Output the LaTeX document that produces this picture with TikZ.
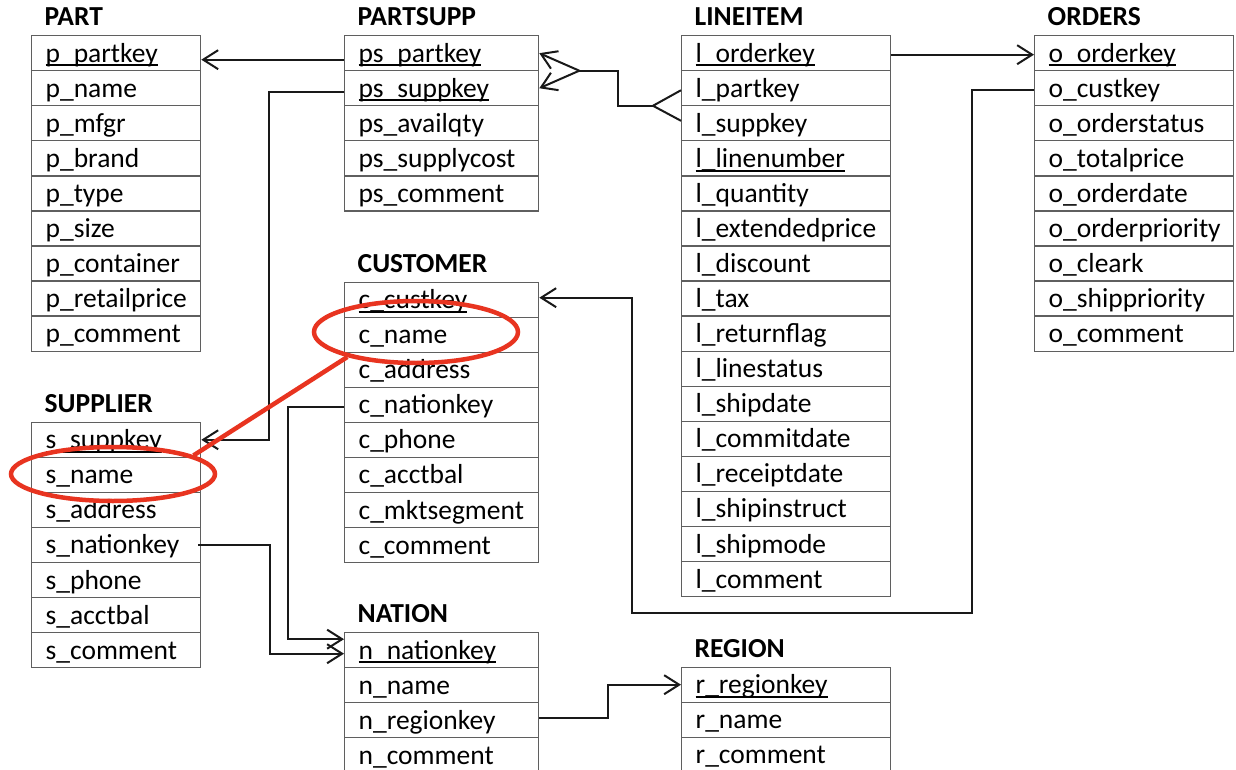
\documentclass[tikz,border=0pt]{standalone}
\usepackage{fontspec}
\setmainfont{Carlito}
\usetikzlibrary{arrows.meta,shapes.geometric,calc}

\definecolor{gridgray}{RGB}{95,95,95}
\definecolor{linkblack}{RGB}{25,25,25}
\definecolor{markred}{RGB}{232,52,32}

\newcommand\fieldfont{\fontsize{27.5}{30}\selectfont}
\newcommand\titlefont{\fontsize{27.5}{30}\selectfont\bfseries}

% primary-key fields get a rule just below the baseline
\newcommand\keyline[1]{\setbox0=\hbox{#1}\rlap{\rule[-4.2pt]{\wd0}{2pt}}\box0}
\newcommand\fieldlabel[2]{%
  \ifnum#2=1 \keyline{\expandafter\detokenize\expandafter{#1}}%
  \else\expandafter\detokenize\expandafter{#1}\fi}

% #1 title node name, #2 title, #3 x, #4 top, #5 width, #6 fields (name/iskey)
\newcommand\dbtable[6]{%
  \node[tabletitle] (#1) at (#3+13.5, #4-9.5) {#2};
  \pgfmathsetmacro\fieldtw{#5-28}
  \foreach \nm/\k [count=\i from 0] in {#6}{
    \node[field, text width=\fieldtw pt] (\nm) at (#3, #4+\i*35.06) {\fieldlabel{\nm}{\k}};
  }
}

\begin{document}
\begin{tikzpicture}[x=1pt, y=-1pt,
  field/.style={draw=gridgray, line width=1.3pt, anchor=north west,
    minimum height=35.06pt, inner xsep=14pt, inner ysep=0pt,
    text height=21.5pt, text depth=3.5pt, align=left, font=\fieldfont},
  tabletitle/.style={anchor=base west, inner sep=0pt, font=\titlefont},
  conn/.style={draw=linkblack, line width=2pt, line join=miter},
  tip/.style={-{Straight Barb[length=15pt,width=19pt]}},
  ring/.style={ellipse, draw=markred, line width=4.5pt, inner sep=0pt},
  redline/.style={draw=markred, line width=4.5pt}]

\fill[white] (0,0) rectangle (1236,770);
\useasboundingbox (0,0) rectangle (1236,770);

% tables
\dbtable{part-title}{PART}{31}{35}{169}{p_partkey/1, p_name/0, p_mfgr/0, p_brand/0,
  p_type/0, p_size/0, p_container/0, p_retailprice/0, p_comment/0}
\dbtable{partsupp-title}{PARTSUPP}{344}{35}{194}{ps_partkey/1, ps_suppkey/1,
  ps_availqty/0, ps_supplycost/0, ps_comment/0}
\dbtable{lineitem-title}{LINEITEM}{681}{35}{209}{l_orderkey/1, l_partkey/0,
  l_suppkey/0, l_linenumber/1, l_quantity/0, l_extendedprice/0, l_discount/0,
  l_tax/0, l_returnflag/0, l_linestatus/0, l_shipdate/0, l_commitdate/0,
  l_receiptdate/0, l_shipinstruct/0, l_shipmode/0, l_comment/0}
\dbtable{orders-title}{ORDERS}{1034}{35}{199}{o_orderkey/1, o_custkey/0,
  o_orderstatus/0, o_totalprice/0, o_orderdate/0, o_orderpriority/0,
  o_cleark/0, o_shippriority/0, o_comment/0}
\dbtable{customer-title}{CUSTOMER}{344}{281.5}{194}{c_custkey/1, c_name/0,
  c_address/0, c_nationkey/0, c_phone/0, c_acctbal/0, c_mktsegment/0, c_comment/0}
\dbtable{supplier-title}{SUPPLIER}{31}{421.6}{169}{s_suppkey/1, s_name/0,
  s_address/0, s_nationkey/0, s_phone/0, s_acctbal/0, s_comment/0}
\dbtable{nation-title}{NATION}{344}{632}{194}{n_nationkey/1, n_name/0,
  n_regionkey/0, n_comment/0}
\dbtable{region-title}{REGION}{681}{666.5}{209}{r_regionkey/1, r_name/0, r_comment/0}

% PARTSUPP -> PART
\draw[conn, tip] ([yshift=-6.5pt]ps_partkey.west) -- ([yshift=-6.5pt]p_partkey.east);
% PARTSUPP -> SUPPLIER
\draw[conn, tip] ([yshift=-3.5pt]ps_suppkey.west) -- ++(-75,0) |- (s_suppkey.east);

% LINEITEM -> PARTSUPP (composite key, crow's foot)
\coordinate (ps-fork) at ($(ps_partkey.east)!0.5!(ps_suppkey.east)+(40,0)$);
\coordinate (l-fork) at ($(l_partkey.west)!0.5!(l_suppkey.west)+(-28,0)$);
\draw[conn, tip] (ps-fork) -- (ps_partkey.east);
\draw[conn, tip] (ps-fork) -- (ps_suppkey.east);
\draw[conn] (ps-fork) -- ++(39,0) |- (l-fork);
\draw[conn] ([yshift=-2pt]l_partkey.west) -- (l-fork) -- ([yshift=2.5pt]l_suppkey.west);

% LINEITEM -> ORDERS
\draw[conn, tip] ([yshift=-1.5pt]l_orderkey.east) -- ([yshift=-1.5pt]o_orderkey.west);

% ORDERS -> CUSTOMER
\coordinate (cust-loop-r) at (972,613);
\coordinate (cust-loop-l) at (632,613);
\draw[conn, tip] ([yshift=-1.5pt]o_custkey.west) -| (cust-loop-r) -- (cust-loop-l)
  |- ([yshift=2pt]c_custkey.east);

% CUSTOMER -> NATION
\draw[conn, tip] ([yshift=-2pt]c_nationkey.west) -- ++(-56,0) |- ([yshift=11pt]n_nationkey.west);
% SUPPLIER -> NATION
\draw[conn, tip] ([xshift=-3pt]s_nationkey.east) -- ++(72,0) |- ([yshift=-3.5pt]n_nationkey.west);
% NATION -> REGION
\draw[conn, tip] ([yshift=2.5pt]n_regionkey.east) -- ++(69,0) |- (r_regionkey.west);

% highlighted name columns
\node[ring, minimum width=204pt, minimum height=62pt] (cname-ring) at (416,332) {};
\node[ring, minimum width=204pt, minimum height=54pt] (sname-ring) at (113,474) {};
\draw[redline] (cname-ring.200) -- (sname-ring.13);

\end{tikzpicture}
\end{document}
